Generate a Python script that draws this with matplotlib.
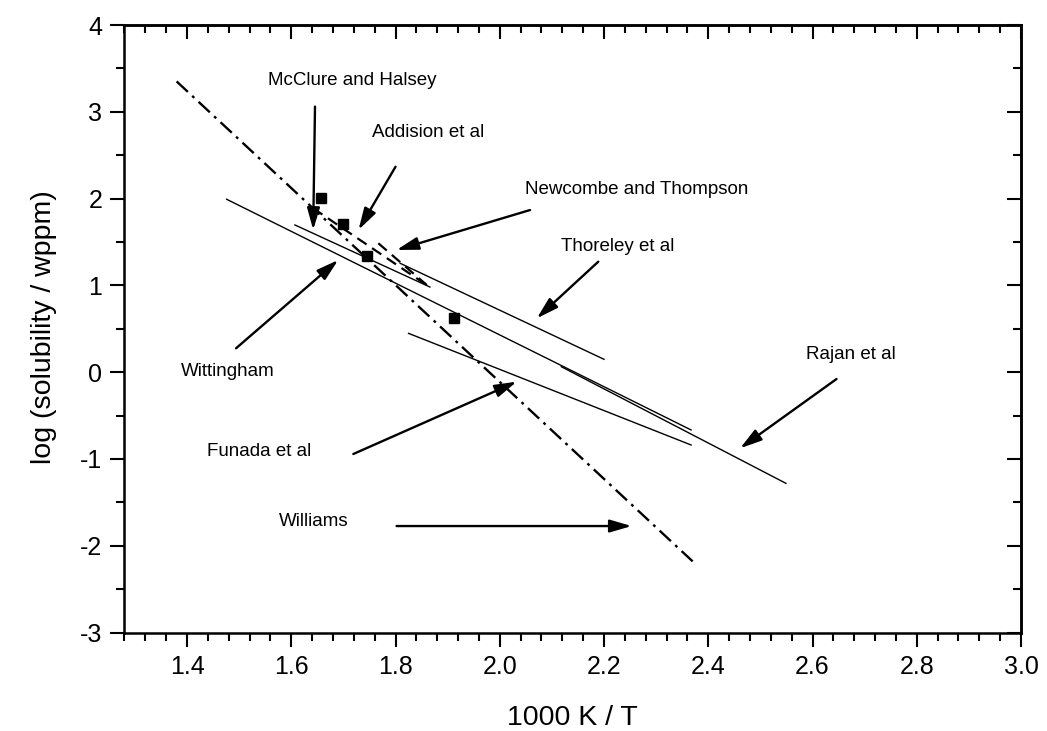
import matplotlib
matplotlib.use('Agg')
import matplotlib.pyplot as plt

plt.rcParams['font.family'] = ['Liberation Sans', 'DejaVu Sans']
plt.rcParams['axes.unicode_minus'] = False

# line data (1000 K / T, log solubility)
williams_x = [1.38, 2.37]
williams_y = [3.35, -2.18]
mcclure_x = [1.607, 1.866]
mcclure_y = [1.696, 0.981]
mcclure_pts_x = [1.657, 1.700, 1.745, 1.912]
mcclure_pts_y = [2.01, 1.707, 1.338, 0.628]
addison_x = [1.642, 1.866]
addison_y = [1.888, 0.978]
newcombe_x = [1.767, 1.860]
newcombe_y = [1.485, 1.004]
thoreley_x = [1.809, 2.200]
thoreley_y = [1.254, 0.148]
wittingham_x = [1.476, 2.367]
wittingham_y = [1.992, -0.666]
funada_x = [1.825, 2.367]
funada_y = [0.447, -0.839]
rajan_x = [2.118, 2.549]
rajan_y = [0.063, -1.281]

# label text, text position, arrow tail, arrow head
labels = [
    ('McClure and Halsey', (1.716, 3.366), (1.6455, 3.06), (1.642, 1.64)),
    ('Addision et al', (1.862, 2.756), (1.800, 2.367), (1.729, 1.64)),
    ('Newcombe and Thompson', (2.263, 2.099), (2.058, 1.868), (1.802, 1.408)),
    ('Thoreley et al', (2.226, 1.446), (2.189, 1.273), (2.071, 0.62)),
    ('Rajan et al', (2.674, 0.198), (2.646, -0.079), (2.461, -0.877)),
    ('Wittingham', (1.478, 0.013), (1.494, 0.275), (1.690, 1.292)),
    ('Funada et al', (1.538, -0.916), (1.719, -0.943), (2.0325, -0.11)),
    ('Williams', (1.643, -1.723), (1.802, -1.773), (2.253, -1.773)),
]

fig = plt.figure(figsize=(10.47, 7.31), dpi=100)
ax = fig.add_axes([0.1189, 0.1347, 0.8563, 0.8311])

ax.plot(williams_x, williams_y, color='black', lw=1.7, dashes=(6.5, 2.5, 1.2, 2.5))
ax.plot(mcclure_x, mcclure_y, color='black', lw=1.0)
ax.plot(mcclure_pts_x, mcclure_pts_y, 's', color='black', ms=7, lw=0)
ax.plot(addison_x, addison_y, color='black', lw=1.6, dashes=(5, 3))
ax.plot(newcombe_x, newcombe_y, color='black', lw=1.6, dashes=(5, 3))
ax.plot(thoreley_x, thoreley_y, color='black', lw=1.0)
ax.plot(wittingham_x, wittingham_y, color='black', lw=1.0)
ax.plot(funada_x, funada_y, color='black', lw=1.0)
ax.plot(rajan_x, rajan_y, color='black', lw=1.0)

for txt, tpos, tail, head in labels:
    ax.text(tpos[0], tpos[1], txt, fontsize=13.5, ha='center', va='center')
    ax.annotate('', xy=head, xytext=tail,
                arrowprops=dict(arrowstyle='-|>,head_length=0.55,head_width=0.16',
                                color='black', lw=1.7,
                                mutation_scale=24, shrinkA=0, shrinkB=0))

ax.set_xlim(1.28, 3.0)
ax.set_ylim(-3, 4)
ax.set_xticks([1.4, 1.6, 1.8, 2.0, 2.2, 2.4, 2.6, 2.8, 3.0])
ax.set_xticks([1.28 + 0.04 * i for i in range(44)], minor=True)
ax.set_yticks(range(-3, 5))
ax.set_yticks([-2.5, -1.5, -0.5, 0.5, 1.5, 2.5, 3.5], minor=True)
ax.set_xticklabels(['1.4', '1.6', '1.8', '2.0', '2.2', '2.4', '2.6', '2.8', '3.0'])

for s in ax.spines.values():
    s.set_linewidth(1.8)
ax.tick_params(which='major', direction='out', length=10, width=1.5, labelsize=18, pad=6)
ax.tick_params(which='minor', direction='out', length=5.5, width=1.5)

# inward ticks on top and right
top = ax.secondary_xaxis('top')
top.set_xticks(ax.get_xticks())
top.set_xticks([1.28 + 0.04 * i for i in range(44)], minor=True)
top.tick_params(which='major', direction='in', length=10, width=1.5, labeltop=False)
top.tick_params(which='minor', direction='in', length=5.5, width=1.5)
top.spines['top'].set_linewidth(1.8)
right = ax.secondary_yaxis('right')
right.set_yticks(range(-3, 5))
right.set_yticks([-2.5, -1.5, -0.5, 0.5, 1.5, 2.5, 3.5], minor=True)
right.tick_params(which='major', direction='in', length=10, width=1.5, labelright=False)
right.tick_params(which='minor', direction='in', length=5.5, width=1.5)
right.spines['right'].set_linewidth(1.8)

ax.set_xlabel('1000 K / T', fontsize=20.5, labelpad=19)
ax.set_ylabel('log (solubility / wppm)', fontsize=20.5)
ax.yaxis.set_label_coords(-0.075, 0.503)

fig.savefig('out.png', dpi=100)
